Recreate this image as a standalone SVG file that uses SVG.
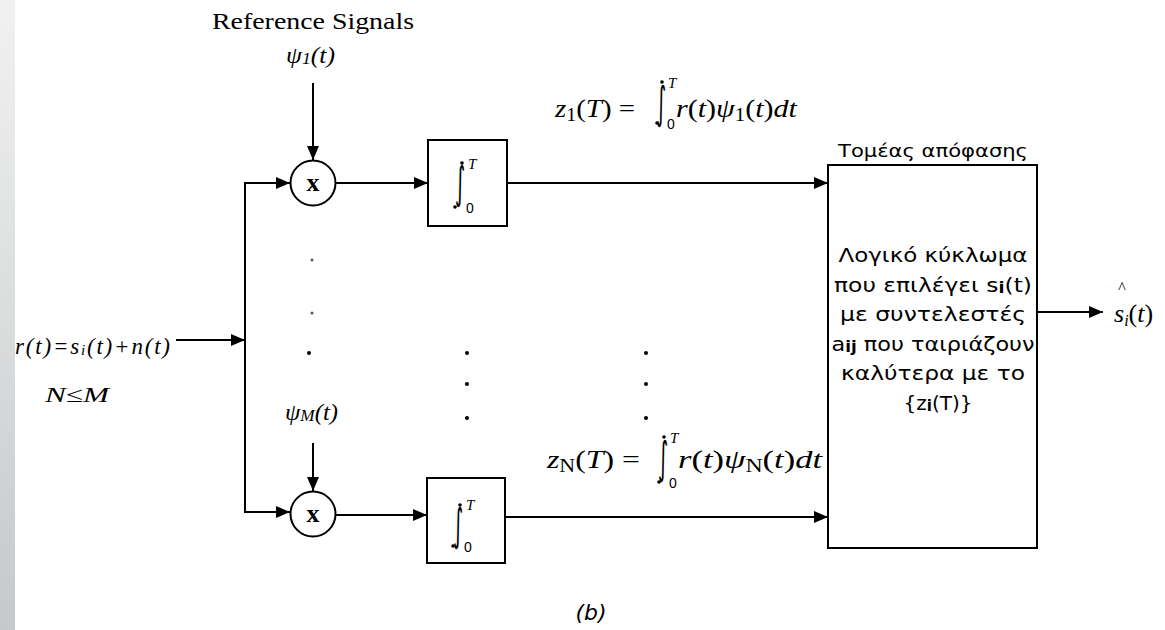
<svg xmlns="http://www.w3.org/2000/svg" width="1165" height="630" viewBox="0 0 1165 630">
<defs>
<linearGradient id="strip" x1="0" y1="0" x2="0" y2="1">
<stop offset="0" stop-color="#f1f1f1"/>
<stop offset="1" stop-color="#c5c9ca"/>
</linearGradient>
<marker id="arr" markerUnits="userSpaceOnUse" markerWidth="15" markerHeight="12" refX="14" refY="6" orient="auto">
<path d="M0,0 L14,6 L0,12 z" fill="#000"/>
</marker>
<style>
.ln{stroke:#000;stroke-width:2;fill:none}
.arw{stroke:#000;stroke-width:2;fill:none;marker-end:url(#arr)}
.box{stroke:#000;stroke-width:2;fill:#fff}
.ser{font-family:"Liberation Serif","DejaVu Serif",serif;fill:#000}
.it{font-style:italic}
.san{font-family:"DejaVu Sans","Liberation Sans",sans-serif;fill:#000}
.intg{font-family:"DejaVu Sans",sans-serif;font-size:44px;fill:#000}
.lim{font-family:"Liberation Sans",sans-serif;font-size:14px;fill:#000}
.limT{font-family:"Liberation Serif",serif;font-style:italic;font-size:15px;fill:#000}
.dot{fill:#000}
</style>
</defs>
<rect x="0" y="0" width="1165" height="630" fill="#fff"/>
<rect x="0" y="0" width="15" height="630" fill="url(#strip)"/>

<g id="connectors">
<path class="arw" d="M313,83 L313,160"/>
<path class="arw" d="M313,443 L313,491"/>
<path class="arw" d="M176,340 L245,340"/>
<path class="ln" d="M245,182 L245,513"/>
<path class="arw" d="M244,183 L290,183"/>
<path class="arw" d="M244,512 L290,512"/>
<path class="arw" d="M336,183 L428,183"/>
<path class="arw" d="M336,515 L427,515"/>
<path class="arw" d="M507,183 L828,183"/>
<path class="arw" d="M505,517 L828,517"/>
<path class="arw" d="M1037,312 L1103,312"/>
</g>

<g id="ref-label">
<text class="ser" x="313" y="29" font-size="24" text-anchor="middle" textLength="202" lengthAdjust="spacingAndGlyphs">Reference Signals</text>
<text class="ser it" x="286" y="63" font-size="23" textLength="49" lengthAdjust="spacingAndGlyphs">ψ<tspan font-size="16" dy="1">1</tspan><tspan dy="-1">(t)</tspan></text>
</g>

<g id="mult1">
<circle cx="313" cy="183" r="22.5" fill="#fff" stroke="#000" stroke-width="2"/>
<text class="ser" x="313" y="191" font-size="26" font-weight="bold" text-anchor="middle">x</text>
</g>

<g id="mult2">
<circle cx="313" cy="514" r="22.5" fill="#fff" stroke="#000" stroke-width="2"/>
<text class="ser" x="313" y="522" font-size="26" font-weight="bold" text-anchor="middle">x</text>
</g>

<g id="psiM-label">
<text class="ser it" x="285" y="420" font-size="23" textLength="53" lengthAdjust="spacingAndGlyphs">ψ<tspan font-size="16" dy="1">M</tspan><tspan dy="-1">(t)</tspan></text>
</g>

<g id="integrator1">
<rect class="box" x="428" y="140" width="79" height="86"/>
<text class="intg" transform="translate(455,198) scale(0.45,1)">∫</text>
<circle class="dot" cx="462" cy="163" r="1.8"/>
<circle class="dot" cx="455" cy="207" r="1.8"/>
<text class="limT" x="468" y="169">T</text>
<text class="lim" x="466" y="213">0</text>
</g>

<g id="integrator2">
<rect class="box" x="427" y="478" width="78" height="85"/>
<text class="intg" transform="translate(453,540) scale(0.45,1)">∫</text>
<circle class="dot" cx="460" cy="505" r="1.8"/>
<circle class="dot" cx="453" cy="546" r="1.8"/>
<text class="limT" x="466" y="510">T</text>
<text class="lim" x="464" y="552">0</text>
</g>

<g id="decision">
<rect class="box" x="828" y="165" width="209" height="383"/>
<text class="san" x="933" y="157" font-size="18" text-anchor="middle" textLength="190" lengthAdjust="spacingAndGlyphs">Τομέας απόφασης</text>
<text class="san" x="933" y="262" font-size="20" text-anchor="middle" textLength="189" lengthAdjust="spacingAndGlyphs">Λογικό κύκλωμα</text>
<text class="san" x="933" y="292" font-size="20" text-anchor="middle" textLength="198" lengthAdjust="spacingAndGlyphs">που επιλέγει s<tspan font-size="15" font-weight="bold" dy="1">i</tspan><tspan dy="-1">(t)</tspan></text>
<text class="san" x="933" y="321" font-size="20" text-anchor="middle" textLength="186" lengthAdjust="spacingAndGlyphs">με συντελεστές</text>
<text class="san" x="933" y="351" font-size="20" text-anchor="middle" textLength="203" lengthAdjust="spacingAndGlyphs">a<tspan font-size="15" font-weight="bold" dy="1">ij</tspan><tspan dy="-1"> που ταιριάζουν</tspan></text>
<text class="san" x="933" y="380" font-size="20" text-anchor="middle" textLength="184" lengthAdjust="spacingAndGlyphs">καλύτερα με το</text>
<text class="san" x="938" y="410" font-size="20" text-anchor="middle">{z<tspan font-size="15" font-weight="bold" dy="1">i</tspan><tspan dy="-1">(T)}</tspan></text>
</g>

<g id="formula1">
<text class="ser" x="555" y="117" font-size="26" textLength="80" lengthAdjust="spacingAndGlyphs"><tspan class="it">z</tspan><tspan font-size="18" dy="4">1</tspan><tspan dy="-4">(</tspan><tspan class="it">T</tspan>) =</text>
<text class="intg" transform="translate(656,118) scale(0.45,1)">∫</text>
<circle class="dot" cx="662" cy="82" r="1.8"/>
<circle class="dot" cx="657" cy="123" r="1.8"/>
<text class="limT" x="668" y="88">T</text>
<text class="lim" x="667" y="129">0</text>
<text class="ser" x="676" y="117" font-size="26" textLength="121" lengthAdjust="spacingAndGlyphs"><tspan class="it">r</tspan>(<tspan class="it">t</tspan>)<tspan class="it">ψ</tspan><tspan font-size="18" dy="4">1</tspan><tspan dy="-4">(</tspan><tspan class="it">t</tspan>)<tspan class="it">dt</tspan></text>
</g>

<g id="formulaN">
<text class="ser" x="547" y="468" font-size="26" textLength="93" lengthAdjust="spacingAndGlyphs"><tspan class="it">z</tspan><tspan font-size="18" dy="4">N</tspan><tspan dy="-4">(</tspan><tspan class="it">T</tspan>) =</text>
<text class="intg" transform="translate(658,473) scale(0.45,1)">∫</text>
<circle class="dot" cx="664" cy="437" r="1.8"/>
<circle class="dot" cx="659" cy="482" r="1.8"/>
<text class="limT" x="670" y="443">T</text>
<text class="lim" x="669" y="488">0</text>
<text class="ser" x="678" y="468" font-size="26" textLength="144" lengthAdjust="spacingAndGlyphs"><tspan class="it">r</tspan>(<tspan class="it">t</tspan>)<tspan class="it">ψ</tspan><tspan font-size="18" dy="4">N</tspan><tspan dy="-4">(</tspan><tspan class="it">t</tspan>)<tspan class="it">dt</tspan></text>
</g>

<g id="input-label">
<text class="ser it" x="15" y="354" font-size="23" textLength="155" lengthAdjust="spacing">r(t)=s<tspan font-size="15" dy="1">i</tspan><tspan dy="-1">(t)+n(t)</tspan></text>
<text class="ser it" x="45" y="402" font-size="22" textLength="64" lengthAdjust="spacingAndGlyphs">N≤M</text>
</g>

<g id="output-label">
<text class="ser" x="1114" y="322" font-size="26"><tspan class="it">s</tspan><tspan class="it" font-size="16" dy="4">i</tspan><tspan dy="-4">(</tspan><tspan class="it">t</tspan>)</text>
<text class="ser" x="1122" y="293" font-size="16" text-anchor="middle">^</text>
</g>

<g id="dots">
<circle cx="312" cy="260" r="1.5" fill="#555"/>
<circle cx="312" cy="313" r="1.5" fill="#555"/>
<circle class="dot" cx="309" cy="353" r="2"/>
<circle class="dot" cx="467" cy="353" r="2"/>
<circle class="dot" cx="467" cy="384" r="2"/>
<circle class="dot" cx="467" cy="418" r="2"/>
<circle class="dot" cx="646" cy="353" r="2"/>
<circle class="dot" cx="646" cy="384" r="2"/>
<circle class="dot" cx="646" cy="418" r="2"/>
</g>

<g id="caption">
<text class="san it" x="591" y="620" font-size="22" text-anchor="middle">(b)</text>
</g>
</svg>
